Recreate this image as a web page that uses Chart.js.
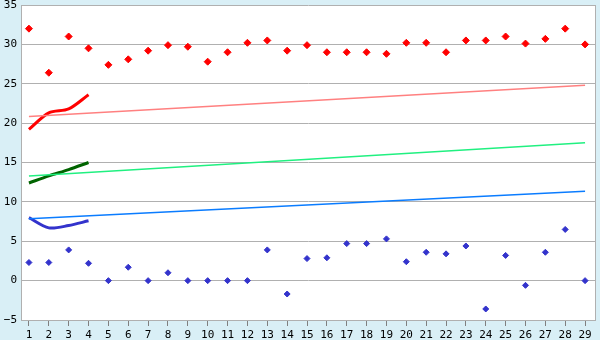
<!DOCTYPE html>
<html>
<head>
<meta charset="utf-8">
<script src="https://cdn.jsdelivr.net/npm/chart.js@4"></script>
<style>
  html, body { margin: 0; padding: 0; background: #d9eff6; }
  #wrap { width: 600px; height: 340px; }
</style>
</head>
<body>
<div id="wrap"><canvas id="myChart" width="600" height="340"></canvas></div>
<script>
const days = [1, 2, 3, 4, 5, 6, 7, 8, 9, 10, 11, 12, 13, 14, 15, 16, 17, 18, 19, 20, 21, 22, 23, 24, 25, 26, 27, 28, 29];

const highPoints = [32.0, 26.4, 31.0, 29.5, 27.4, 28.1, 29.2, 29.9, 29.7, 27.8,
                    29.0, 30.2, 30.5, 29.2, 29.9, 29.0, 29.0, 29.0, 28.8, 30.2,
                    30.2, 29.0, 30.5, 30.5, 31.0, 30.1, 30.7, 32.0, 30.0];
const lowPoints = [2.3, 2.3, 3.9, 2.2, 0, 1.7, 0, 1.0, 0, 0,
                   0, 0, 3.9, -1.7, 2.8, 2.9, 4.7, 4.7, 5.3, 2.4,
                   3.6, 3.4, 4.4, -3.6, 3.2, -0.6, 3.6, 6.5, 0];

const shortDays = [1, 2, 3, 4];
const redCurve = [19.2, 21.3, 21.8, 23.6];
const greenCurve = [12.4, 13.3, 14.1, 15.0];
const blueCurve = [8.0, 6.7, 7.0, 7.6];

const trendDays = [1, 29];
const redTrend = [20.85, 24.8];
const greenTrend = [13.3, 17.5];
const blueTrend = [7.85, 11.35];

const yTicks = [-5, 0, 5, 10, 15, 20, 25, 30, 35];

const pts = (xs, ys) => xs.map((x, i) => ({ x: x, y: ys[i] }));
const gridGray = '#b0b0b0';
const font = { family: 'DejaVu Sans Mono', size: 11 };

const plotBg = {
  id: 'plotBg',
  beforeDraw(chart) {
    const { ctx, chartArea: a } = chart;
    ctx.save();
    ctx.fillStyle = '#ffffff';
    ctx.fillRect(a.left, a.top, a.right - a.left, a.bottom - a.top);
    ctx.restore();
  }
};

new Chart(document.getElementById('myChart').getContext('2d'), {
  type: 'line',
  plugins: [plotBg],
  data: {
    datasets: [
      { data: pts(days, highPoints), showLine: false, pointStyle: 'rectRot', pointRadius: 3.5,
        backgroundColor: '#ff0000', borderColor: '#ff0000', borderWidth: 1 },
      { data: pts(days, lowPoints), showLine: false, pointStyle: 'rectRot', pointRadius: 3,
        backgroundColor: '#3333cc', borderColor: '#3333cc', borderWidth: 1 },
      { data: pts(trendDays, redTrend), borderColor: '#ff8080', borderWidth: 1.5, pointRadius: 0 },
      { data: pts(trendDays, greenTrend), borderColor: '#20f080', borderWidth: 1.5, pointRadius: 0 },
      { data: pts(trendDays, blueTrend), borderColor: '#0a7cff', borderWidth: 1.5, pointRadius: 0 },
      { data: pts(shortDays, redCurve), borderColor: '#ff0000', borderWidth: 3, pointRadius: 0, tension: 0.3 },
      { data: pts(shortDays, greenCurve), borderColor: '#006400', borderWidth: 3, pointRadius: 0, tension: 0.3 },
      { data: pts(shortDays, blueCurve), borderColor: '#3333cc', borderWidth: 3, pointRadius: 0, tension: 0.3 }
    ]
  },
  options: {
    responsive: false,
    animation: false,
    layout: { padding: 0 },
    plugins: { legend: { display: false }, tooltip: { enabled: false } },
    scales: {
      x: {
        type: 'linear',
        min: 0.6,
        max: 29.5,
        afterBuildTicks: axis => { axis.ticks = days.map(v => ({ value: v })); },
        afterFit: axis => { axis.height = 20; axis.paddingLeft = 0; axis.paddingRight = 0; },
        grid: { drawOnChartArea: false, drawTicks: true, tickLength: 6, color: '#808080' },
        border: { display: true, color: gridGray },
        ticks: { font: font, color: '#000', padding: 3, maxRotation: 0, autoSkip: false }
      },
      y: {
        min: -5,
        max: 35,
        afterBuildTicks: axis => { axis.ticks = yTicks.map(v => ({ value: v })); },
        afterFit: axis => { axis.width = 21; axis.paddingTop = 5; axis.paddingBottom = 0; },
        grid: { color: gridGray, drawTicks: false },
        border: { display: true, color: gridGray },
        ticks: { font: font, color: '#000', padding: 4,
                 callback: v => String(v).replace('-', '\u2212') }
      },
      y2: {
        position: 'right',
        min: -5,
        max: 35,
        afterFit: axis => { axis.width = 5; axis.paddingTop = 5; axis.paddingBottom = 0; },
        grid: { drawOnChartArea: false, drawTicks: false },
        border: { display: true, color: gridGray },
        ticks: { display: false }
      }
    }
  }
});
</script>
</body>
</html>
